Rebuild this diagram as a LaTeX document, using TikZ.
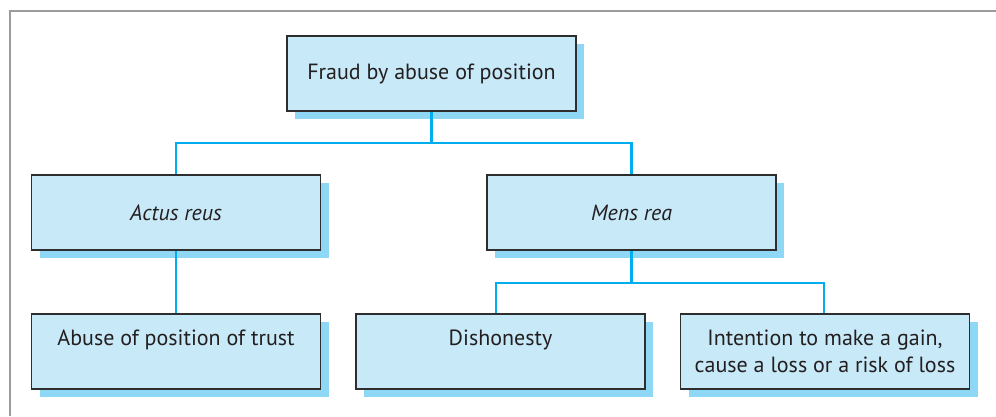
\documentclass[tikz,border=0pt]{standalone}
\usepackage{fontspec}
\setmainfont{PT Sans}
\usetikzlibrary{shadows}
\definecolor{boxfill}{HTML}{C8E9F8}
\definecolor{shadowblue}{HTML}{8ED8F5}
\definecolor{linkblue}{HTML}{00AEEF}
\definecolor{framegrey}{HTML}{9B9B9B}
\definecolor{textdark}{HTML}{231F20}
\definecolor{boxborder}{HTML}{2E2E2E}
\begin{document}
\begin{tikzpicture}[x=1pt,y=-1pt,
  box/.style={draw=boxborder, line width=1.3pt, fill=boxfill,
    minimum width=289pt, minimum height=75pt, inner sep=0pt,
    text=textdark, font=\fontsize{22}{26.5}\selectfont,
    drop shadow={shadow xshift=8pt, shadow yshift=-8pt, fill=shadowblue, opacity=1}},
  topline/.style={text height=15.5pt, text depth=28pt},
  link/.style={draw=linkblue, line width=2.2pt}]
\useasboundingbox (0,0) rectangle (996,416);
\fill[white] (0,0) rectangle (996,416);
\draw[framegrey, line width=2.5pt] (10,416) -- (10,11) -- (996,11);

\node[box] (top) at (431.5,73.5) {Fraud by abuse of position};
\node[box] (actus) at (176,212.5) {\itshape Actus reus};
\node[box] (mens) at (631.5,212.5) {\itshape Mens rea};
\node[box, topline] (abuse) at (176,351.5) {Abuse of position of trust};
\node[box, topline] (dish) at (500.5,351.5) {Dishonesty};
\node[box, align=center] (intent) at (825,351.5) {Intention to make a gain,\\cause a loss or a risk of loss};

\coordinate (j1) at (431.5,143);
\coordinate (j2) at (631.5,283);
\draw[link] (top.south) -- (j1);
\draw[link] (actus.north) |- (j1) -| (mens.north);
\draw[link] (actus.south) -- (abuse.north);
\draw[link] (mens.south) -- (j2);
\draw[link] ([xshift=-4.5pt]dish.north) |- (j2) -| ([xshift=-1pt]intent.north);
\end{tikzpicture}
\end{document}
